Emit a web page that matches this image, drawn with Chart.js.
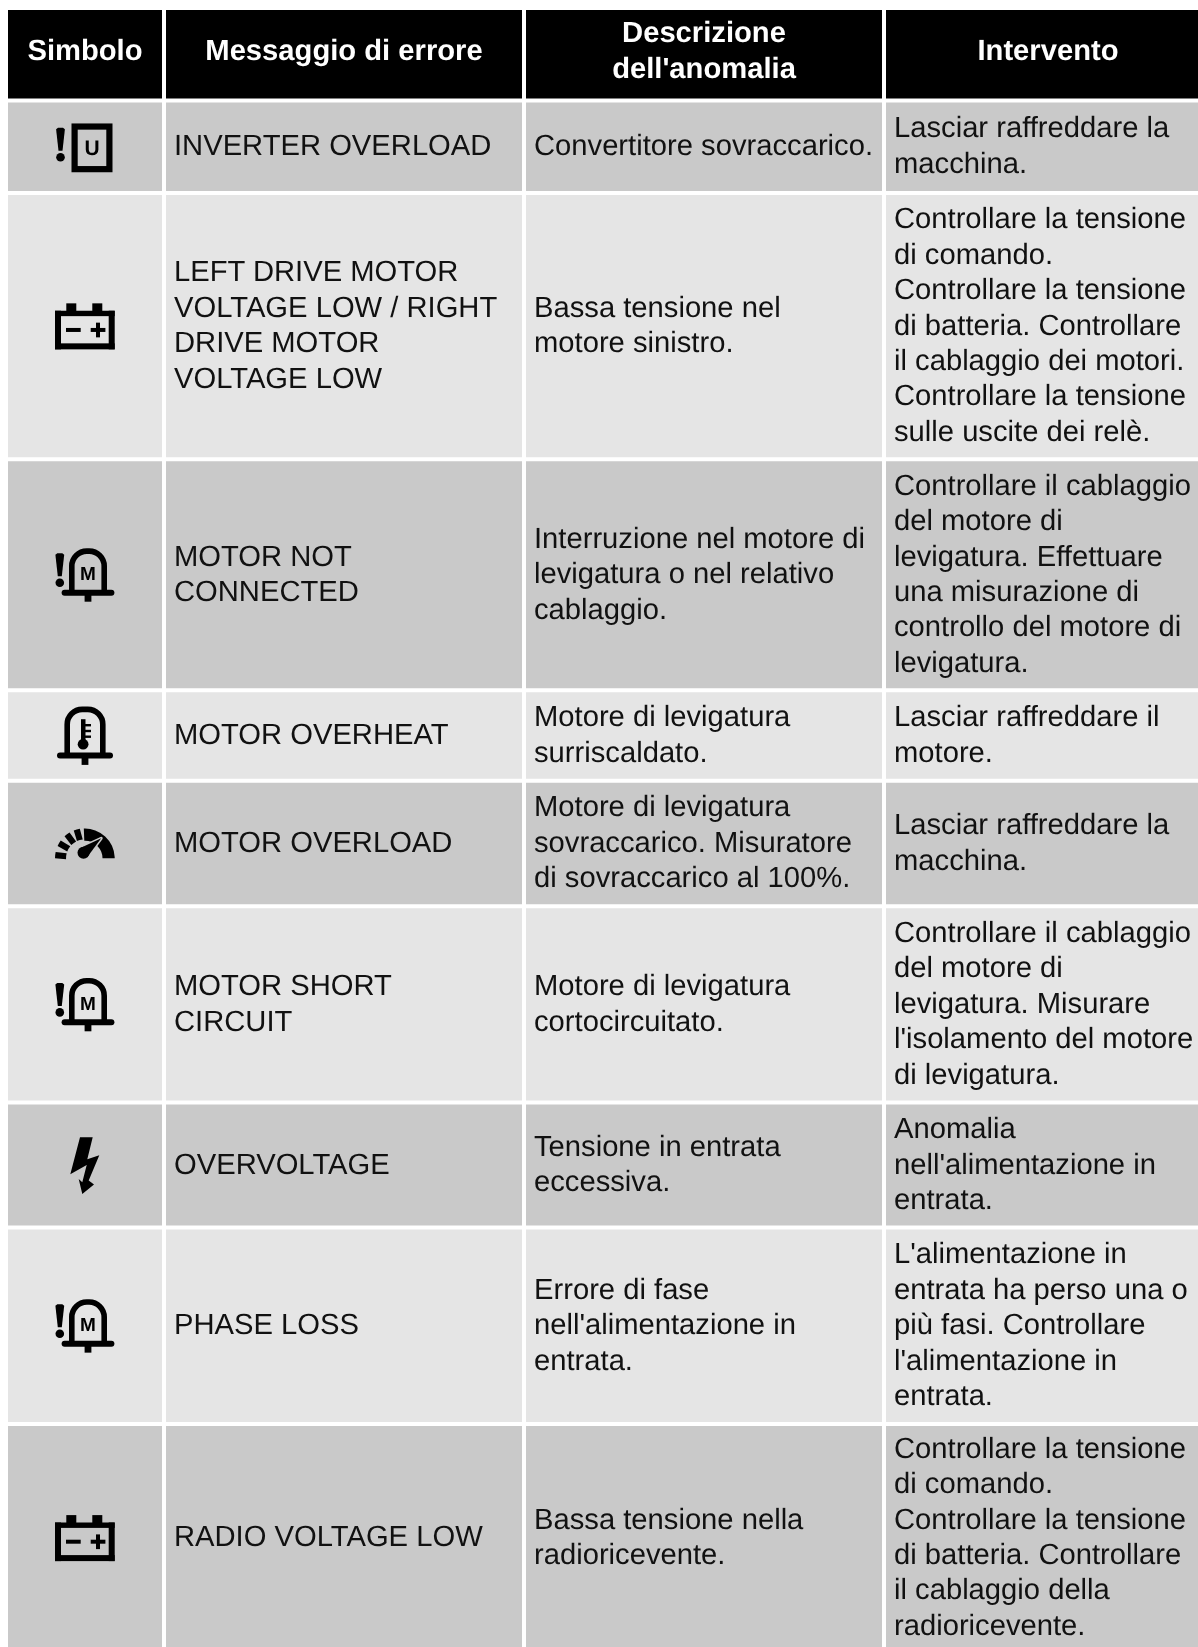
<!DOCTYPE html>
<html>
<head>
<meta charset="utf-8">
<title>Messaggi di errore</title>
<script src="https://cdn.jsdelivr.net/npm/chart.js@4"></script>
<style>
  html, body { margin: 0; padding: 0; background: #ffffff; }
  canvas { display: block; }
</style>
</head>
<body>
<canvas id="errorTable" width="1198" height="1647"></canvas>
<script>
var headers = [
  ["Simbolo"],
  ["Messaggio di errore"],
  ["Descrizione", "dell'anomalia"],
  ["Intervento"]
];

var symbols = ["inverter", "battery", "motorM", "motorHot", "gauge", "motorM", "bolt", "motorM", "battery"];

var messages = [
  ["INVERTER OVERLOAD"],
  ["LEFT DRIVE MOTOR", "VOLTAGE LOW / RIGHT", "DRIVE MOTOR", "VOLTAGE LOW"],
  ["MOTOR NOT", "CONNECTED"],
  ["MOTOR OVERHEAT"],
  ["MOTOR OVERLOAD"],
  ["MOTOR SHORT", "CIRCUIT"],
  ["OVERVOLTAGE"],
  ["PHASE LOSS"],
  ["RADIO VOLTAGE LOW"]
];

var descriptions = [
  ["Convertitore sovraccarico."],
  ["Bassa tensione nel", "motore sinistro."],
  ["Interruzione nel motore di", "levigatura o nel relativo", "cablaggio."],
  ["Motore di levigatura", "surriscaldato."],
  ["Motore di levigatura", "sovraccarico. Misuratore", "di sovraccarico al 100%."],
  ["Motore di levigatura", "cortocircuitato."],
  ["Tensione in entrata", "eccessiva."],
  ["Errore di fase", "nell'alimentazione in", "entrata."],
  ["Bassa tensione nella", "radioricevente."]
];

var actions = [
  ["Lasciar raffreddare la", "macchina."],
  ["Controllare la tensione", "di comando.", "Controllare la tensione", "di batteria. Controllare", "il cablaggio dei motori.", "Controllare la tensione", "sulle uscite dei relè."],
  ["Controllare il cablaggio", "del motore di", "levigatura. Effettuare", "una misurazione di", "controllo del motore di", "levigatura."],
  ["Lasciar raffreddare il", "motore."],
  ["Lasciar raffreddare la", "macchina."],
  ["Controllare il cablaggio", "del motore di", "levigatura. Misurare", "l'isolamento del motore", "di levigatura."],
  ["Anomalia", "nell'alimentazione in", "entrata."],
  ["L'alimentazione in", "entrata ha perso una o", "più fasi. Controllare", "l'alimentazione in", "entrata."],
  ["Controllare la tensione", "di comando.", "Controllare la tensione", "di batteria. Controllare", "il cablaggio della", "radioricevente."]
];

// row and column sizes, gap included
var columnWidths = [158, 360, 360, 328];
var rowHeights = [92.5, 92.5, 266.3, 231, 90.4, 125.5, 196.4, 125, 196.3, 228];

var tableLeft = 8;
var tableTop = 10;
var cellGap = 4;
var lineHeight = 35.4;
var textPad = 8;
var headerColor = "#000000";
var rowColors = ["#c9c9c9", "#e5e5e5"];
var textColor = "#111111";
var bodyFont = "29.2px 'Liberation Sans'";
var headerFont = "bold 29.2px 'Liberation Sans'";

function getColumnStarts() {

  var starts = [];
  var pos = tableLeft;

  for (var i = 0; i < columnWidths.length; i++) {

    starts.push(pos);
    pos += columnWidths[i];
  }

  return starts;
}

function getRowCenters() {

  var centers = [];
  var pos = tableTop;

  for (var i = 0; i < rowHeights.length; i++) {

    centers.push(pos + (rowHeights[i] - cellGap) / 2);
    pos += rowHeights[i];
  }

  return centers;
}

function buildDatasets() {

  var starts = getColumnStarts();
  var centers = getRowCenters();
  var datasets = [];

  for (var r = 0; r < rowHeights.length; r++) {

    var cells = [];

    for (var c = 0; c < columnWidths.length; c++) {

      cells.push({ x: [starts[c], starts[c] + columnWidths[c] - cellGap], y: centers[r] });
    }

    datasets.push({
      label: r == 0 ? "Intestazione" : messages[r - 1].join(" "),
      data: cells,
      barThickness: rowHeights[r] - cellGap,
      backgroundColor: r == 0 ? headerColor : rowColors[(r - 1) % 2],
      borderWidth: 0,
      inflateAmount: 0,
      grouped: false
    });
  }

  return datasets;
}

function drawLines(ctx, lines, x, y, leading, shift) {

  for (var i = 0; i < lines.length; i++) {

    ctx.fillText(lines[i], x, y + (i - (lines.length - 1) / 2) * leading + shift);
  }
}

function polygon(ctx, cx, cy, points) {

  ctx.beginPath();
  for (var i = 0; i < points.length; i++) {

    ctx.lineTo(cx + points[i][0], cy + points[i][1]);
  }
  ctx.closePath();
  ctx.fill();
}

function drawExclamation(ctx, cx, cy, top) {

  polygon(ctx, cx, cy, [[-4.4, top + 1.5], [-2.5, top], [2.5, top], [4.4, top + 1.5], [2, top + 23], [-2, top + 23]]);
  ctx.beginPath();
  ctx.arc(cx, cy + top + 29.5, 4.3, 0, Math.PI * 2);
  ctx.fill();
}

function drawBell(ctx, cx, cy, offset, halfWidth, baseHalf, top, base, bottom) {

  ctx.lineWidth = 5.6;
  ctx.lineCap = "butt";
  ctx.beginPath();
  ctx.moveTo(cx + offset - halfWidth, cy + base);
  ctx.lineTo(cx + offset - halfWidth, cy + top + 15);
  ctx.arcTo(cx + offset - halfWidth, cy + top, cx + offset - halfWidth + 15, cy + top, 15);
  ctx.lineTo(cx + offset + halfWidth - 15, cy + top);
  ctx.arcTo(cx + offset + halfWidth, cy + top, cx + offset + halfWidth, cy + top + 15, 15);
  ctx.lineTo(cx + offset + halfWidth, cy + base);
  ctx.stroke();

  ctx.lineWidth = 6;
  ctx.lineCap = "round";
  ctx.beginPath();
  ctx.moveTo(cx + offset - baseHalf, cy + base);
  ctx.lineTo(cx + offset + baseHalf, cy + base);
  ctx.stroke();

  ctx.fillRect(cx + offset - 3.4, cy + base, 6.8, bottom - base);
}

function drawSymbol(ctx, name, cx, cy, rowColor) {

  ctx.fillStyle = "#000000";
  ctx.strokeStyle = "#000000";

  if (name == "inverter") {

    drawExclamation(ctx, cx - 24.5, cy, -19);
    ctx.lineWidth = 6.2;
    ctx.lineCap = "butt";
    ctx.strokeRect(cx - 10.4, cy - 20.2, 34.8, 42.6);
    ctx.font = "bold 21px 'Liberation Sans'";
    ctx.textAlign = "center";
    ctx.fillText("U", cx + 7, cy + 8.6);
  }

  if (name == "battery") {

    ctx.fillRect(cx - 18.7, cy - 22.8, 10, 8);
    ctx.fillRect(cx + 7.3, cy - 22.8, 10, 8);
    ctx.fillRect(cx - 30, cy - 15.4, 59.7, 5.4);
    ctx.fillRect(cx - 30, cy + 17.2, 59.7, 6);
    ctx.fillRect(cx - 30, cy - 15.4, 6, 38.6);
    ctx.fillRect(cx + 23.7, cy - 15.4, 6, 38.6);
    ctx.fillRect(cx - 19, cy + 1.8, 14.7, 4);
    ctx.fillRect(cx + 5.7, cy + 1.8, 14.7, 4);
    ctx.fillRect(cx + 11, cy - 3.5, 4, 14.7);
  }

  if (name == "motorM") {

    drawExclamation(ctx, cx - 25.2, cy, -21.5);
    drawBell(ctx, cx, cy, 3, 16.2, 23.4, -23.7, 17.9, 26.9);
    ctx.font = "bold 19px 'Liberation Sans'";
    ctx.textAlign = "center";
    ctx.fillText("M", cx + 3, cy + 5.2);
  }

  if (name == "motorHot") {

    drawBell(ctx, cx, cy, 0, 17.8, 25, -26.1, 20.1, 29.4);
    ctx.fillRect(cx - 4, cy - 16.3, 4.5, 24);
    ctx.beginPath();
    ctx.arc(cx - 1.9, cy + 8.7, 5.4, 0, Math.PI * 2);
    ctx.fill();
    ctx.fillRect(cx, cy - 11.5, 6, 2.4);
    ctx.fillRect(cx, cy - 5.7, 6, 2.4);
    ctx.fillRect(cx, cy + 0, 6, 2.4);
  }

  if (name == "gauge") {

    var hubY = cy + 14.8;
    var dashAngles = [6, 30, 53, 74];

    for (var i = 0; i < dashAngles.length; i++) {

      var mid = Math.PI + dashAngles[i] * Math.PI / 180;
      ctx.beginPath();
      ctx.arc(cx, hubY, 30, mid - 0.105, mid + 0.105);
      ctx.arc(cx, hubY, 19, mid + 0.16, mid - 0.16, true);
      ctx.closePath();
      ctx.fill();
    }

    ctx.beginPath();
    ctx.arc(cx, hubY, 29.7, -Math.PI / 2 - 0.04, 0);
    ctx.arc(cx, hubY, 17.5, 0, -Math.PI / 2 - 0.04, true);
    ctx.closePath();
    ctx.fill();

    // needle keeps a thin outline in the row colour where it crosses the dial
    ctx.strokeStyle = rowColor;
    ctx.lineWidth = 3;
    ctx.lineJoin = "round";
    ctx.beginPath();
    ctx.moveTo(cx - 5.2, hubY - 10.1);
    ctx.lineTo(cx + 16.2, hubY - 20);
    ctx.lineTo(cx + 2.2, hubY - 1.1);
    ctx.closePath();
    ctx.stroke();

    ctx.beginPath();
    ctx.moveTo(cx - 5.2, hubY - 10.1);
    ctx.lineTo(cx + 16.2, hubY - 20);
    ctx.lineTo(cx + 2.2, hubY - 1.1);
    ctx.closePath();
    ctx.fill();
    ctx.beginPath();
    ctx.arc(cx - 1.5, hubY - 5.6, 6, 0, Math.PI * 2);
    ctx.fill();
  }

  if (name == "bolt") {

    polygon(ctx, cx, cy, [[-5, -27.9], [7.7, -27.9], [2.3, -5.9], [14.3, -9.9], [3.7, 15.5], [9, 19.5], [-2.7, 28.8], [-6.3, 13.8], [-2.7, 17.1], [1.7, -0.2], [-14.7, 9.1]]);
  }
}

var tablePainter = {

  id: "tablePainter",

  afterDatasetsDraw: function(chart) {

    var ctx = chart.ctx;
    var xScale = chart.scales.x;
    var yScale = chart.scales.y;
    var starts = getColumnStarts();
    var centers = getRowCenters();

    ctx.save();
    ctx.textBaseline = "alphabetic";
    ctx.fontKerning = "normal";
    ctx.textRendering = "geometricPrecision";

    ctx.fillStyle = "#ffffff";
    ctx.font = headerFont;
    ctx.textAlign = "center";

    for (var c = 0; c < headers.length; c++) {

      var mid = xScale.getPixelForValue(starts[c] + (columnWidths[c] - cellGap) / 2);
      drawLines(ctx, headers[c], mid, yScale.getPixelForValue(centers[0]), 36, 6.1);
    }

    for (var r = 0; r < symbols.length; r++) {

      var rowY = yScale.getPixelForValue(centers[r + 1]);
      var columns = [messages[r], descriptions[r], actions[r]];

      ctx.save();
      drawSymbol(ctx, symbols[r], xScale.getPixelForValue(starts[0] + (columnWidths[0] - cellGap) / 2), rowY, rowColors[r % 2]);
      ctx.restore();

      ctx.fillStyle = textColor;
      ctx.font = bodyFont;
      ctx.textAlign = "left";

      for (var k = 0; k < columns.length; k++) {

        drawLines(ctx, columns[k], xScale.getPixelForValue(starts[k + 1] + textPad), rowY, lineHeight, 8.4);
      }
    }

    ctx.restore();
  }
};

function init() {

  var ctx = document.getElementById("errorTable").getContext("2d");

  new Chart(ctx, {

    type: "bar",
    data: {
      datasets: buildDatasets()
    },
    options: {
      indexAxis: "y",
      responsive: false,
      animation: false,
      layout: { padding: 0 },
      plugins: {
        legend: { display: false },
        tooltip: { enabled: false }
      },
      scales: {
        x: { type: "linear", display: false, min: 0, max: 1198 },
        y: { type: "linear", display: false, reverse: true, min: 0, max: 1647, offset: false }
      }
    },
    plugins: [tablePainter]
  });
}

init();
</script>
</body>
</html>
